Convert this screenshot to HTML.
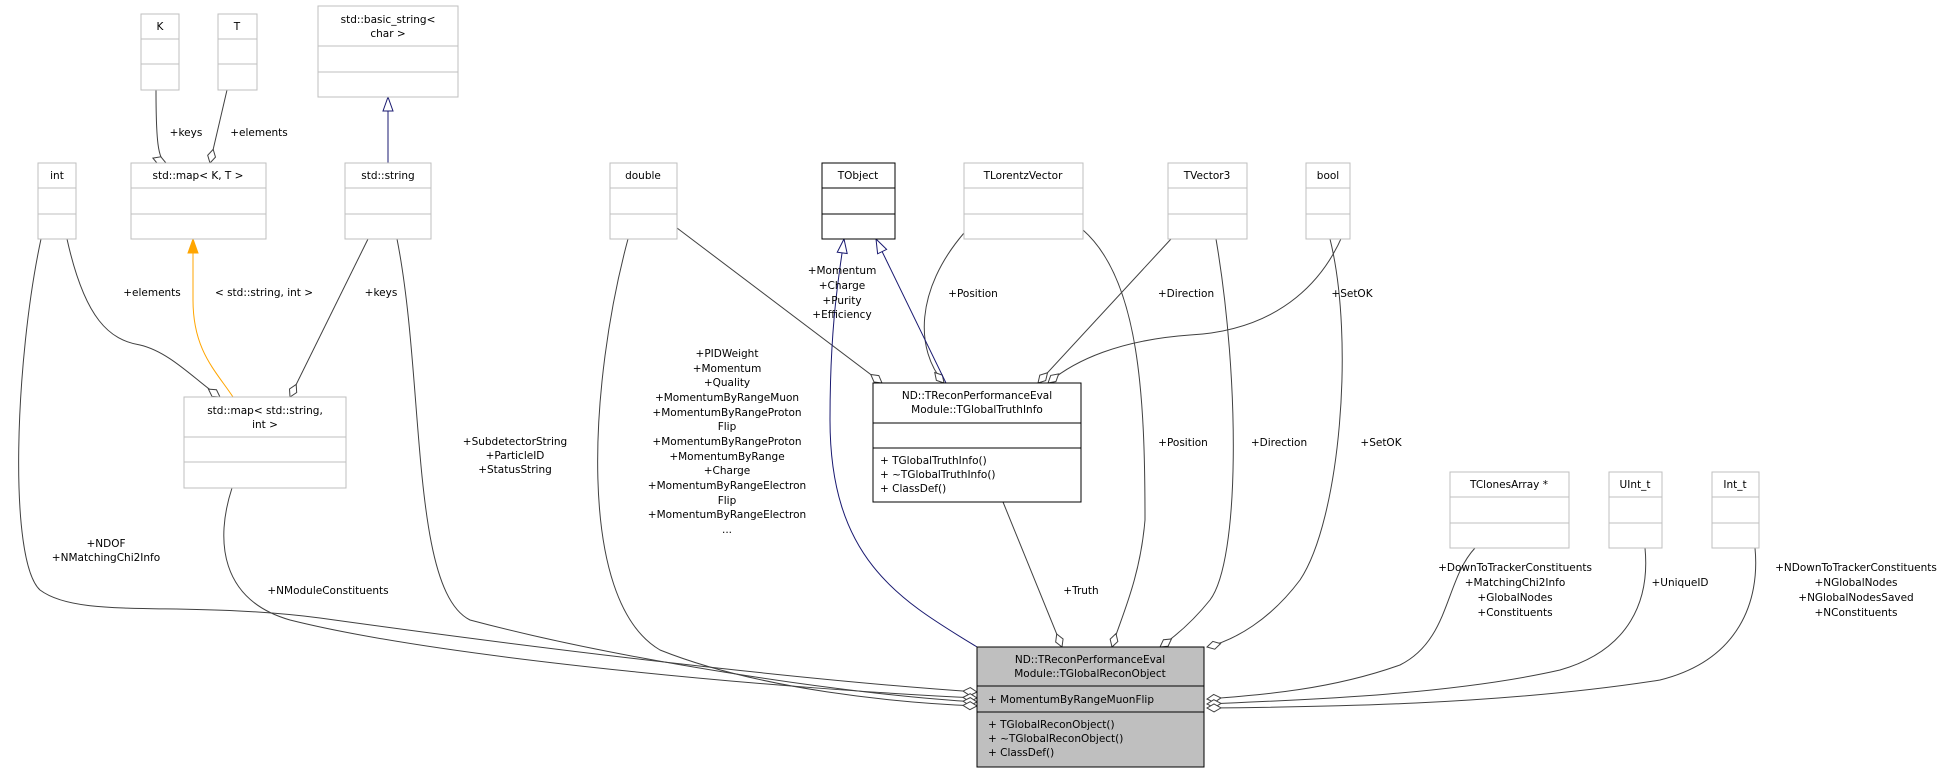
<!DOCTYPE html>
<html><head><meta charset="utf-8"><style>
html,body{margin:0;padding:0;background:#fff;}
svg{display:block;font-family:"DejaVu Sans","Liberation Sans",sans-serif;font-size:10.5px;}
</style></head><body>
<svg width="1957" height="773" viewBox="0 0 1957 773" xmlns="http://www.w3.org/2000/svg">
<defs>
<marker id="dia" markerUnits="userSpaceOnUse" markerWidth="16" markerHeight="10" refX="15" refY="5" orient="auto"><path d="M1,5 L8,1 L15,5 L8,9 z" fill="#fff" stroke="#404040" stroke-width="1"/></marker>
<marker id="tri" markerUnits="userSpaceOnUse" markerWidth="16" markerHeight="12" refX="15" refY="6" orient="auto"><path d="M1,1 L15,6 L1,11 z" fill="#fff" stroke="#191970" stroke-width="1"/></marker>
<marker id="org" markerUnits="userSpaceOnUse" markerWidth="16" markerHeight="12" refX="15" refY="6" orient="auto"><path d="M1,1 L15,6 L1,11 z" fill="#FFA500" stroke="#FFA500" stroke-width="1"/></marker>
</defs>
<g fill="none" stroke="#404040" stroke-width="1">
<!-- K,T to map<K,T> -->
<path d="M156,90 C156,140 158,160 166,163" marker-end="url(#dia)"/>
<path d="M227,90 L210,163" marker-end="url(#dia)"/>
<!-- int -> map<string,int> -->
<path d="M67,239 C85,320 110,340 140,345 C170,352 195,380 220,397" marker-end="url(#dia)"/>
<!-- string -> map<string,int> -->
<path d="M368,239 L290,397" marker-end="url(#dia)"/>
<!-- to Recon left -->
<path d="M41,239 C15,360 8,560 40,590 C80,620 180,600 320,618 C550,650 800,680 977,692" marker-end="url(#dia)"/>
<path d="M232,488 C215,540 220,600 290,620 C450,660 800,690 977,698" marker-end="url(#dia)"/>
<path d="M397,239 C425,380 410,590 470,620 C620,660 850,695 977,702" marker-end="url(#dia)"/>
<path d="M628,239 C590,380 575,600 660,650 C760,690 900,703 977,706" marker-end="url(#dia)"/>
<!-- to TruthInfo -->
<path d="M677,228 L882,383" marker-end="url(#dia)"/>
<path d="M964,233 C915,290 915,350 944,383" marker-end="url(#dia)"/>
<path d="M1171,239 L1038,383" marker-end="url(#dia)"/>
<path d="M1350,215 C1330,280 1280,330 1190,335 C1120,340 1075,360 1048,383" marker-end="url(#dia)"/>
<!-- to Recon top -->
<path d="M1003,502 L1062,647" marker-end="url(#dia)"/>
<path d="M1083,230 C1140,280 1145,400 1145,520 C1140,580 1120,620 1112,647" marker-end="url(#dia)"/>
<path d="M1216,239 C1240,380 1240,560 1210,600 C1190,625 1170,640 1160,647" marker-end="url(#dia)"/>
<path d="M1330,239 C1355,340 1340,520 1300,580 C1270,620 1235,640 1207,647" marker-end="url(#dia)"/>
<!-- to Recon right -->
<path d="M1475,548 C1445,580 1450,640 1400,665 C1330,690 1260,695 1207,699" marker-end="url(#dia)"/>
<path d="M1645,548 C1650,600 1630,650 1560,670 C1450,695 1300,700 1207,704" marker-end="url(#dia)"/>
<path d="M1755,548 C1760,600 1740,660 1660,680 C1500,705 1320,707 1207,708" marker-end="url(#dia)"/>
</g>
<g fill="none" stroke="#191970" stroke-width="1">
<path d="M388,163 L388,97" marker-end="url(#tri)"/>
<path d="M977,647 C900,600 830,560 830,420 C830,320 840,270 844,239" marker-end="url(#tri)"/>
<path d="M946,383 L876,239" marker-end="url(#tri)"/>
</g>
<path d="M233,397 C215,370 193,350 193,300 L193,239" fill="none" stroke="#FFA500" stroke-width="1" marker-end="url(#org)"/>

<!-- nodes -->
<g fill="#fff" stroke="#bfbfbf" stroke-width="1">
<rect x="141" y="14" width="38" height="76"/><path d="M141,39H179M141,64H179"/>
<rect x="218" y="14" width="39" height="76"/><path d="M218,39H257M218,64H257"/>
<rect x="318" y="6" width="140" height="91"/><path d="M318,46H458M318,72H458"/>
<rect x="38" y="163" width="38" height="76"/><path d="M38,188H76M38,214H76"/>
<rect x="131" y="163" width="135" height="76"/><path d="M131,188H266M131,214H266"/>
<rect x="345" y="163" width="86" height="76"/><path d="M345,188H431M345,214H431"/>
<rect x="610" y="163" width="67" height="76"/><path d="M610,188H677M610,214H677"/>
<rect x="964" y="163" width="119" height="76"/><path d="M964,188H1083M964,214H1083"/>
<rect x="1168" y="163" width="79" height="76"/><path d="M1168,188H1247M1168,214H1247"/>
<rect x="1306" y="163" width="44" height="76"/><path d="M1306,188H1350M1306,214H1350"/>
<rect x="184" y="397" width="162" height="91"/><path d="M184,437H346M184,462H346"/>
<rect x="1450" y="472" width="119" height="76"/><path d="M1450,497H1569M1450,523H1569"/>
<rect x="1609" y="472" width="53" height="76"/><path d="M1609,497H1662M1609,523H1662"/>
<rect x="1712" y="472" width="47" height="76"/><path d="M1712,497H1759M1712,523H1759"/>
</g>
<g fill="#fff" stroke="#000" stroke-width="1">
<rect x="822" y="163" width="73" height="76"/><path d="M822,188H895M822,214H895"/>
<rect x="873" y="383" width="208" height="119"/><path d="M873,423H1081M873,448H1081"/>
</g>
<g fill="#bfbfbf" stroke="#000" stroke-width="1">
<rect x="977" y="647" width="227" height="120"/><path d="M977,686H1204M977,712H1204"/>
</g>

<g fill="#000" text-anchor="middle">
<text x="160" y="30">K</text>
<text x="237" y="30">T</text>
<text x="388" y="23">std::basic_string&lt;</text>
<text x="388" y="37">char &gt;</text>
<text x="57" y="179">int</text>
<text x="198" y="179">std::map&lt; K, T &gt;</text>
<text x="388" y="179">std::string</text>
<text x="643" y="179">double</text>
<text x="858" y="179">TObject</text>
<text x="1023" y="179">TLorentzVector</text>
<text x="1207" y="179">TVector3</text>
<text x="1328" y="179">bool</text>
<text x="265" y="414">std::map&lt; std::string,</text>
<text x="265" y="428">int &gt;</text>
<text x="1509" y="488">TClonesArray *</text>
<text x="1635" y="488">UInt_t</text>
<text x="1735" y="488">Int_t</text>
<text x="977" y="399">ND::TReconPerformanceEval</text>
<text x="977" y="413">Module::TGlobalTruthInfo</text>
<text x="1090" y="663">ND::TReconPerformanceEval</text>
<text x="1090" y="677">Module::TGlobalReconObject</text>

<text x="186" y="136">+keys</text>
<text x="259" y="136">+elements</text>
<text x="152" y="296">+elements</text>
<text x="264" y="296">&lt; std::string, int &gt;</text>
<text x="381" y="296">+keys</text>
<text x="106" y="547">+NDOF</text>
<text x="106" y="561">+NMatchingChi2Info</text>
<text x="328" y="594">+NModuleConstituents</text>
<text x="515" y="445">+SubdetectorString</text>
<text x="515" y="459">+ParticleID</text>
<text x="515" y="473">+StatusString</text>
<text x="727" y="357">+PIDWeight</text>
<text x="727" y="372">+Momentum</text>
<text x="727" y="386">+Quality</text>
<text x="727" y="401">+MomentumByRangeMuon</text>
<text x="727" y="416">+MomentumByRangeProton</text>
<text x="727" y="430">Flip</text>
<text x="727" y="445">+MomentumByRangeProton</text>
<text x="727" y="460">+MomentumByRange</text>
<text x="727" y="474">+Charge</text>
<text x="727" y="489">+MomentumByRangeElectron</text>
<text x="727" y="504">Flip</text>
<text x="727" y="518">+MomentumByRangeElectron</text>
<text x="727" y="533">...</text>
<text x="842" y="274">+Momentum</text>
<text x="842" y="289">+Charge</text>
<text x="842" y="304">+Purity</text>
<text x="842" y="318">+Efficiency</text>
<text x="973" y="297">+Position</text>
<text x="1186" y="297">+Direction</text>
<text x="1352" y="297">+SetOK</text>
<text x="1183" y="446">+Position</text>
<text x="1279" y="446">+Direction</text>
<text x="1381" y="446">+SetOK</text>
<text x="1081" y="594">+Truth</text>
<text x="1515" y="571">+DownToTrackerConstituents</text>
<text x="1515" y="586">+MatchingChi2Info</text>
<text x="1515" y="601">+GlobalNodes</text>
<text x="1515" y="616">+Constituents</text>
<text x="1680" y="586">+UniqueID</text>
<text x="1856" y="571">+NDownToTrackerConstituents</text>
<text x="1856" y="586">+NGlobalNodes</text>
<text x="1856" y="601">+NGlobalNodesSaved</text>
<text x="1856" y="616">+NConstituents</text>
</g>
<g fill="#000">
<text x="880" y="464">+ TGlobalTruthInfo()</text>
<text x="880" y="478">+ ~TGlobalTruthInfo()</text>
<text x="880" y="492">+ ClassDef()</text>
<text x="988" y="703">+ MomentumByRangeMuonFlip</text>
<text x="988" y="728">+ TGlobalReconObject()</text>
<text x="988" y="742">+ ~TGlobalReconObject()</text>
<text x="988" y="756">+ ClassDef()</text>
</g>
</svg>
</body></html>
